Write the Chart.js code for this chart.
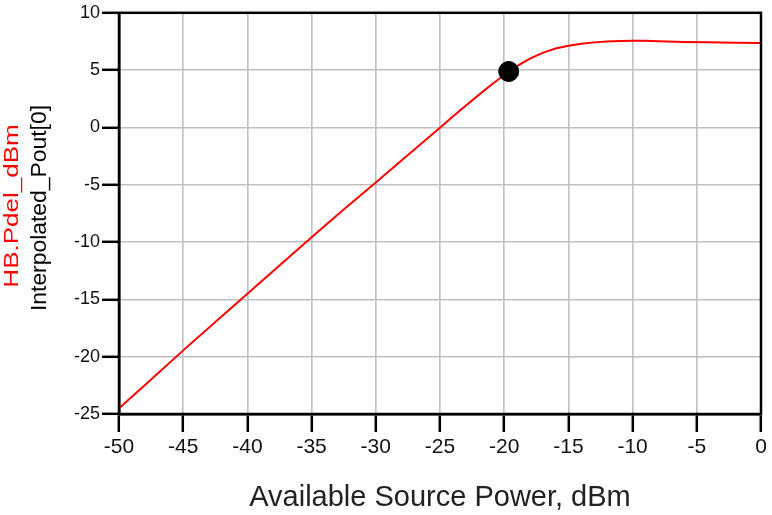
<!DOCTYPE html>
<html>
<head>
<meta charset="utf-8">
<title>HB.Pdel_dBm</title>
<script src="https://cdn.jsdelivr.net/npm/chart.js@4/dist/chart.umd.min.js"></script>
<style>
    html, body { margin: 0; padding: 0; background: #fff; }
    #wrap { width: 772px; height: 515px; }
</style>
</head>
<body>
<div id="wrap"><canvas id="pdelChart"></canvas></div>
<script>
// ── Dados ────────────────────────────────────────────────────────────────────
const sourcePower = [-50, -47.5, -45, -42.5, -40, -37.5, -35, -32.5, -30, -27.5, -25,
                     -24, -23, -22, -21, -20, -19, -18, -17, -16, -15, -14, -13, -12,
                     -11, -10, -9, -8, -6, -4, -2, 0];
const pdelDbm     = [-24.5, -22.0, -19.45, -16.98, -14.5, -12.05, -9.58, -7.15, -4.8, -2.4, -0.02,
                     0.95, 1.9, 2.82, 3.72, 4.57, 5.35, 6.0, 6.5, 6.88, 7.12, 7.3, 7.42, 7.5,
                     7.55, 7.57, 7.56, 7.52, 7.46, 7.42, 7.39, 7.37];

// marcador (Interpolated_Pout[0])
const markerX = [-19.65];
const markerY = [4.88];

const xTicks = [-50, -45, -40, -35, -30, -25, -20, -15, -10, -5, 0];
const yTicks = [-25, -20, -15, -10, -5, 0, 5, 10];

const FONT = '"Liberation Sans", Arial, sans-serif';

// ── Plugins ──────────────────────────────────────────────────────────────────
// moldura preta em volta da área do gráfico
const frame = {
    id: 'frame',
    afterDraw(chart) {
        const { ctx, chartArea: a } = chart;
        ctx.save();
        ctx.strokeStyle = '#000';
        ctx.lineWidth = 2.5;
        ctx.strokeRect(a.left, a.top, a.right - a.left, a.bottom - a.top);
        ctx.restore();
    }
};

// título do eixo Y em duas cores (vermelho + preto), texto um pouco esticado como no original
function drawRotated(ctx, text, x, y, color, size, stretch) {
    ctx.save();
    ctx.translate(x, y);
    ctx.rotate(-Math.PI / 2);
    ctx.scale(stretch, 1);
    ctx.fillStyle = color;
    ctx.font = `${size}px ${FONT}`;
    ctx.textAlign = 'center';
    ctx.textBaseline = 'alphabetic';
    ctx.fillText(text, 0, 0);
    ctx.restore();
}

const yTitles = {
    id: 'yTitles',
    afterDraw(chart) {
        const { ctx } = chart;
        drawRotated(ctx, 'HB.Pdel_dBm', 18, 206, '#ff0000', 20, 1.3);
        drawRotated(ctx, 'Interpolated_Pout[0]', 46, 208, '#000', 22, 1.04);
    }
};

// ── Gráfico ──────────────────────────────────────────────────────────────────
const ctx = document.getElementById('pdelChart');
new Chart(ctx, {
    type: 'scatter',
    data: {
        datasets: [
            {
                label: 'HB.Pdel_dBm',
                data: sourcePower.map((x, i) => ({ x, y: pdelDbm[i] })),
                showLine: true,
                borderColor: '#ff0000',
                borderWidth: 2,
                pointRadius: 0,
                tension: 0,
                order: 2
            },
            {
                label: 'Interpolated_Pout[0]',
                data: markerX.map((x, i) => ({ x, y: markerY[i] })),
                showLine: false,
                pointRadius: 10,
                pointBackgroundColor: '#000',
                pointBorderColor: '#000',
                order: 1
            }
        ]
    },
    options: {
        responsive: true,
        maintainAspectRatio: false,
        animation: false,
        layout: { padding: { top: 10, right: 10, left: 0, bottom: 0 } },
        plugins: {
            legend: { display: false },
            tooltip: { enabled: false }
        },
        scales: {
            x: {
                type: 'linear',
                min: -50,
                max: 0,
                afterFit: (s) => { s.height = 101; },
                afterBuildTicks: (s) => { s.ticks = xTicks.map(v => ({ value: v })); },
                border: { color: '#000', width: 2.5 },
                grid: { color: '#c0c0c0', lineWidth: 1.6, tickColor: '#000', tickWidth: 2.5, tickLength: 18 },
                ticks: {
                    color: '#111',
                    font: { family: FONT, size: 21 },
                    padding: 3,
                    maxRotation: 0
                },
                title: {
                    display: true,
                    text: 'Available Source Power, dBm',
                    color: '#222',
                    font: { family: FONT, size: 29 },
                    padding: { top: 0, bottom: 0 }
                }
            },
            y: {
                type: 'linear',
                min: -25,
                max: 10,
                afterFit: (s) => { s.width = 119; },
                afterBuildTicks: (s) => { s.ticks = yTicks.map(v => ({ value: v })); },
                border: { color: '#000', width: 2.5 },
                grid: { color: '#c0c0c0', lineWidth: 1.6, tickColor: '#000', tickWidth: 2.5, tickLength: 17 },
                ticks: {
                    color: '#111',
                    font: { family: FONT, size: 18 },
                    padding: 2
                }
            }
        }
    },
    plugins: [frame, yTitles]
});
</script>
</body>
</html>
